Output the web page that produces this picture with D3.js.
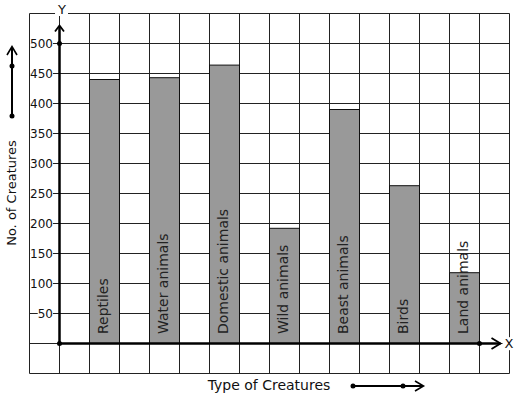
<!DOCTYPE html>
<html><head><meta charset="utf-8">
<script src="https://cdn.jsdelivr.net/npm/d3@7"></script>
<style>body{margin:0;background:#fff;overflow:hidden}</style>
</head><body>
<svg id="c" width="517" height="399"></svg>
<script>
const categories = ["Reptiles","Water animals","Domestic animals","Wild animals","Beast animals","Birds","Land animals"];
const values = [440, 443, 464, 192, 390, 263, 118];
const yTicks = [50,100,150,200,250,300,350,400,450,500];
const xTitle = "Type of Creatures";
const yTitle = "No. of Creatures";

const FONT = "DejaVu Sans";
const svg = d3.select("#c");
svg.append("rect").attr("width",517).attr("height",399).attr("fill","#fff");

// grid scales (one grid cell = 30px = 50 units)
const gx = d3.scaleLinear().domain([-1,15]).range([29.5,509.5]);
const y = d3.scaleLinear().domain([0,500]).range([343.5,43.5]);
const x = d3.scaleBand().domain(categories).range([gx(1), gx(14)]).paddingInner(0.5).paddingOuter(0);

const grid = svg.append("g").attr("stroke","#222").attr("stroke-width",1);
grid.selectAll("line.v").data(d3.range(-1,16)).join("line")
  .attr("x1",d=>gx(d)).attr("x2",d=>gx(d)).attr("y1",y(550)).attr("y2",y(-50));
grid.selectAll("line.h").data(d3.range(-50,551,50)).join("line")
  .attr("y1",d=>y(d)).attr("y2",d=>y(d)).attr("x1",gx(-1)).attr("x2",gx(15));

// bars
svg.append("g").selectAll("rect").data(categories).join("rect")
  .attr("x",d=>x(d)).attr("width",x.bandwidth())
  .attr("y",(d,i)=>y(values[i])).attr("height",(d,i)=>y(0)-y(values[i]))
  .attr("fill","#999").attr("stroke","#111").attr("stroke-width",1);

// bar labels
svg.append("g").selectAll("text").data(categories).join("text")
  .attr("transform",d=>`translate(${x(d)+x.bandwidth()/2+3.5},${y(0)-9.5}) rotate(-90)`)
  .attr("font-family",FONT).attr("font-size",14).attr("fill","#222")
  .text(d=>d);

function withBg(sel, pad){
  sel.each(function(){
    const b = this.getBBox();
    d3.select(this.parentNode).insert("rect", ()=>this)
      .attr("x",b.x-pad).attr("y",b.y+1).attr("width",b.width+2*pad).attr("height",b.height-2)
      .attr("fill","#fff");
  });
}

// y tick labels
const tl = svg.append("g");
tl.selectAll("text").data(yTicks).join("text")
  .attr("x",53).attr("y",d=>y(d)).attr("dy","0.36em")
  .attr("text-anchor","end").attr("font-family",FONT).attr("font-size",12).attr("fill","#111")
  .text(d=>d);
withBg(tl.selectAll("text"), 0);

// axes
const ax = svg.append("g").attr("stroke","#000").attr("fill","none");
ax.append("line").attr("x1",gx(0)).attr("x2",gx(0)).attr("y1",y(0)).attr("y2",y(530)+1).attr("stroke-width",2.5);
ax.append("line").attr("x1",gx(0)).attr("x2",gx(14.7)).attr("y1",y(0)).attr("y2",y(0)).attr("stroke-width",2.5);
ax.append("path").attr("d",`M${gx(0)-4.5},${y(520)} L${gx(0)},${y(530)} L${gx(0)+4.5},${y(520)}`).attr("stroke-width",1.8);
ax.append("path").attr("d",`M${gx(14.7)-9},${y(0)-5.5} L${gx(14.7)},${y(0)} L${gx(14.7)-9},${y(0)+5.5}`).attr("stroke-width",1.8);
svg.append("g").selectAll("circle").data([[gx(0),y(0)],[gx(0),y(500)],[gx(14),y(0)]]).join("circle")
  .attr("cx",d=>d[0]).attr("cy",d=>d[1]).attr("r",2.5).attr("fill","#000");

// axis letters
const al = svg.append("g");
al.append("text").attr("x",62).attr("y",14).attr("text-anchor","middle")
  .attr("font-family",FONT).attr("font-size",13).attr("fill","#111").text("Y");
al.append("text").attr("x",509).attr("y",343.5).attr("dy","0.36em").attr("text-anchor","middle")
  .attr("font-family",FONT).attr("font-size",13).attr("fill","#111").text("X");
withBg(al.selectAll("text"), 2);

// axis titles
svg.append("text").attr("x",269).attr("y",390).attr("text-anchor","middle")
  .attr("font-family",FONT).attr("font-size",14).attr("fill","#111").text(xTitle);
svg.append("text").attr("transform","translate(16,193) rotate(-90)").attr("text-anchor","middle")
  .attr("font-family",FONT).attr("font-size",13).attr("fill","#111").text(yTitle);

// title arrows
const ta = svg.append("g").attr("stroke","#000").attr("fill","none").attr("stroke-width",2);
ta.append("line").attr("x1",353).attr("x2",423).attr("y1",386).attr("y2",386);
ta.append("path").attr("d","M415,381 L423.5,386 L415,391").attr("stroke-width",1.6);
ta.append("line").attr("x1",12).attr("x2",12).attr("y1",116).attr("y2",47);
ta.append("path").attr("d","M7,55 L12,46.5 L17,55").attr("stroke-width",1.6);
svg.append("g").selectAll("circle").data([[353,386],[403,386],[12,116],[12,66]]).join("circle")
  .attr("cx",d=>d[0]).attr("cy",d=>d[1]).attr("r",2.5).attr("fill","#000");
</script>
</body></html>
